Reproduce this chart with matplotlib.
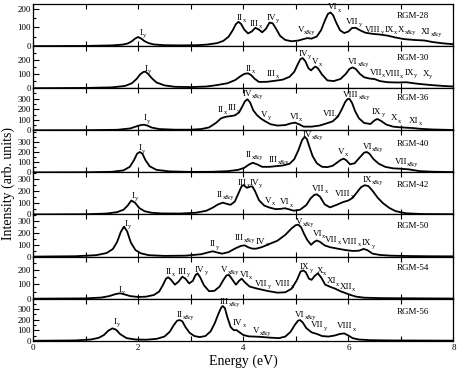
import numpy as np
import matplotlib
matplotlib.use("Agg")
import matplotlib.pyplot as plt
from matplotlib.ticker import MultipleLocator, FixedLocator

plt.rcParams['font.family'] = ['Liberation Serif', 'DejaVu Serif']

# ---------------- data (energy in eV, intensity in arb. units) ----------------
systems = ["RGM-28", "RGM-30", "RGM-36", "RGM-40", "RGM-42", "RGM-50", "RGM-54", "RGM-56"]

x28 = [0.0, 1.0, 1.5, 1.7, 1.8, 1.88, 1.94, 2.0, 2.06, 2.12, 2.2, 2.3, 2.5, 2.8, 3.1, 3.3, 3.5, 3.62, 3.72, 3.8,
       3.86, 3.91, 3.96, 4.02, 4.09, 4.16, 4.23, 4.3, 4.36, 4.43, 4.5, 4.56, 4.63, 4.7, 4.8, 4.92, 5.05, 5.15, 5.22,
       5.3, 5.4, 5.48, 5.55, 5.61, 5.66, 5.71, 5.77, 5.84, 5.92, 6.0, 6.07, 6.14, 6.22, 6.32, 6.45, 6.6, 6.75, 6.9,
       7.05, 7.25, 7.45, 7.6, 7.8, 8.0]
y28 = [0, 1, 4, 8, 14, 26, 40, 49, 40, 27, 16, 9, 5, 4, 5, 8, 16, 28, 50, 85,
       118, 130, 118, 88, 68, 78, 98, 88, 74, 92, 126, 122, 90, 55, 33, 26, 30, 38, 43,
       40, 52, 85, 135, 172, 180, 165, 125, 85, 70, 78, 97, 98, 85, 72, 66, 62, 56, 46,
       38, 33, 30, 22, 15, 10]

x30 = [0.0, 1.0, 1.5, 1.75, 1.88, 1.97, 2.04, 2.1, 2.14, 2.19, 2.26, 2.35, 2.5, 2.7, 3.0, 3.3, 3.5, 3.7, 3.85,
       3.95, 4.02, 4.09, 4.15, 4.22, 4.3, 4.45, 4.6, 4.75, 4.88, 4.97, 5.04, 5.09, 5.13, 5.18, 5.24, 5.29, 5.33,
       5.37, 5.42, 5.5, 5.6, 5.72, 5.85, 5.95, 6.02, 6.08, 6.14, 6.22, 6.3, 6.4, 6.5, 6.6, 6.75, 6.95, 7.1, 7.3,
       7.55, 7.8, 8.0]
y30 = [0, 2, 6, 16, 35, 65, 98, 114, 116, 100, 70, 40, 20, 10, 8, 12, 22, 35, 58,
       85, 100, 105, 92, 65, 44, 45, 52, 60, 80, 115, 170, 205, 211, 190, 140, 125, 140,
       152, 140, 95, 55, 50, 65, 100, 135, 146, 135, 100, 77, 68, 64, 50, 42, 40, 42, 32,
       23, 16, 12]

x36 = [0.0, 1.0, 1.6, 1.85, 1.97, 2.05, 2.11, 2.17, 2.26, 2.4, 2.7, 3.0, 3.2, 3.35, 3.48, 3.58, 3.68, 3.76,
       3.84, 3.92, 3.98, 4.03, 4.08, 4.13, 4.19, 4.26, 4.34, 4.42, 4.52, 4.65, 4.8, 4.9, 4.98, 5.05, 5.15, 5.3,
       5.45, 5.58, 5.7, 5.8, 5.88, 5.94, 5.98, 6.02, 6.07, 6.13, 6.2, 6.3, 6.42, 6.5, 6.55, 6.62, 6.72, 6.85,
       6.95, 7.1, 7.22, 7.35, 7.6, 8.0]
y36 = [0, 1, 5, 18, 38, 50, 53, 46, 26, 12, 6, 6, 12, 28, 70, 115, 130, 135,
       142, 170, 225, 275, 295, 265, 190, 145, 110, 85, 58, 45, 50, 65, 73, 60, 35, 35,
       45, 65, 85, 130, 205, 270, 295, 300, 260, 180, 115, 70, 60, 95, 108, 90, 55, 35,
       30, 25, 22, 15, 8, 3]

x40 = [0.0, 1.0, 1.5, 1.72, 1.84, 1.92, 1.98, 2.03, 2.08, 2.14, 2.22, 2.35, 2.6, 3.0, 3.4, 3.7, 3.9, 4.02,
       4.1, 4.18, 4.26, 4.36, 4.5, 4.63, 4.75, 4.88, 4.97, 5.05, 5.12, 5.17, 5.21, 5.26, 5.32, 5.4, 5.5, 5.6,
       5.7, 5.78, 5.86, 5.91, 5.96, 6.03, 6.12, 6.22, 6.3, 6.35, 6.4, 6.48, 6.58, 6.7, 6.85, 7.0, 7.15, 7.35,
       7.6, 8.0]
y40 = [0, 1, 6, 20, 55, 120, 185, 201, 185, 120, 60, 25, 10, 5, 6, 12, 25, 45,
       75, 95, 80, 55, 55, 62, 68, 85, 130, 220, 320, 350, 330, 250, 160, 90, 55, 52,
       65, 95, 125, 135, 120, 80, 90, 150, 195, 201, 185, 130, 85, 55, 40, 36, 30, 13,
       7, 3]

x42 = [0.0, 1.0, 1.4, 1.6, 1.72, 1.8, 1.87, 1.94, 2.02, 2.12, 2.25, 2.45, 2.8, 3.1, 3.3, 3.42, 3.52, 3.61,
       3.7, 3.76, 3.84, 3.92, 3.97, 4.01, 4.07, 4.13, 4.17, 4.22, 4.3, 4.4, 4.5, 4.62, 4.72, 4.79, 4.86, 4.96,
       5.08, 5.2, 5.28, 5.35, 5.4, 5.46, 5.55, 5.65, 5.78, 5.9, 6.0, 6.08, 6.16, 6.24, 6.31, 6.38, 6.46, 6.56,
       6.66, 6.78, 6.9, 7.1, 7.4, 8.0]
y42 = [0, 2, 8, 20, 40, 75, 118, 100, 55, 28, 15, 9, 8, 15, 32, 58, 85, 100,
       88, 82, 110, 190, 240, 247, 225, 235, 238, 200, 120, 75, 58, 45, 48, 53, 45, 32,
       40, 80, 135, 165, 170, 150, 85, 60, 82, 105, 118, 140, 185, 230, 247, 240, 200, 140,
       95, 55, 28, 10, 4, 2]

x50 = [0.0, 0.8, 1.2, 1.4, 1.52, 1.6, 1.67, 1.73, 1.79, 1.86, 1.95, 2.05, 2.2, 2.5, 2.9, 3.2, 3.35, 3.42,
       3.5, 3.6, 3.72, 3.85, 3.96, 4.03, 4.1, 4.17, 4.24, 4.35, 4.5, 4.65, 4.8, 4.92, 5.0, 5.05, 5.1, 5.16,
       5.22, 5.29, 5.35, 5.4, 5.46, 5.55, 5.65, 5.8, 5.95, 6.08, 6.2, 6.29, 6.36, 6.46, 6.6, 6.8, 7.1, 7.5, 8.0]
y50 = [0, 3, 12, 30, 65, 125, 210, 255, 215, 120, 55, 28, 12, 6, 8, 20, 38, 45,
       35, 25, 38, 70, 92, 95, 78, 68, 67, 80, 108, 135, 185, 240, 268, 271, 250, 190,
       140, 100, 125, 137, 125, 95, 80, 67, 55, 48, 50, 65, 55, 25, 14, 8, 5, 3, 2]

x54 = [0.0, 1.0, 1.3, 1.45, 1.55, 1.62, 1.67, 1.74, 1.85, 2.0, 2.15, 2.3, 2.4, 2.47, 2.53, 2.57, 2.62, 2.7,
       2.77, 2.84, 2.9, 2.97, 3.04, 3.09, 3.13, 3.18, 3.25, 3.35, 3.45, 3.55, 3.62, 3.68, 3.73, 3.8, 3.86, 3.92,
       3.97, 4.03, 4.12, 4.25, 4.45, 4.65, 4.8, 4.92, 5.02, 5.09, 5.14, 5.19, 5.25, 5.3, 5.36, 5.42, 5.48, 5.56,
       5.66, 5.75, 5.85, 5.96, 6.05, 6.15, 6.3, 6.6, 7.0, 8.0]
y54 = [0, 2, 8, 18, 30, 36, 37, 30, 18, 12, 14, 26, 50, 95, 140, 150, 135, 98,
       120, 154, 140, 107, 125, 165, 177, 150, 95, 52, 55, 85, 130, 163, 166, 130, 98, 125,
       140, 115, 85, 72, 55, 42, 45, 70, 130, 190, 198, 185, 140, 132, 160, 177, 150, 98,
       82, 70, 52, 37, 25, 14, 7, 4, 3, 1]

x56 = [0.0, 0.8, 1.1, 1.25, 1.35, 1.43, 1.51, 1.58, 1.66, 1.78, 1.95, 2.15, 2.35, 2.5, 2.6, 2.68, 2.74, 2.79,
       2.84, 2.9, 2.98, 3.07, 3.17, 3.28, 3.38, 3.46, 3.53, 3.58, 3.61, 3.65, 3.7, 3.76, 3.82, 3.87, 3.93, 4.0,
       4.1, 4.3, 4.5, 4.68, 4.8, 4.9, 4.98, 5.04, 5.08, 5.13, 5.2, 5.3, 5.4, 5.5, 5.62, 5.74, 5.84, 5.92, 6.0,
       6.08, 6.2, 6.4, 6.8, 8.0]
y56 = [0, 3, 12, 28, 55, 95, 118, 105, 62, 25, 12, 10, 18, 40, 85, 150, 190, 197,
       185, 130, 75, 45, 35, 45, 90, 170, 260, 315, 330, 310, 220, 130, 100, 102, 80, 55,
       42, 38, 30, 25, 40, 85, 150, 190, 197, 175, 120, 80, 65, 45, 40, 50, 65, 70, 50,
       25, 12, 6, 3, 1]

energies = [x28, x30, x36, x40, x42, x50, x54, x56]
intensities = [y28, y30, y36, y40, y42, y50, y54, y56]

# peak assignments: (numeral, polarisation, energy of label, intensity of label)
peaks28 = [("I", "y", 2.03, 60), ("II", "x", 3.87, 142), ("III", "x", 4.13, 110), ("IV", "y", 4.44, 142),
           ("V", "x&y", 5.03, 77), ("VI", "x", 5.61, 196), ("VII", "y", 5.96, 121), ("VIII", "y", 6.32, 77),
           ("IX", "x", 6.69, 77), ("X", "x&y", 6.94, 77), ("XI", "x&y", 7.38, 67)]
peaks30 = [("I", "y", 2.13, 124), ("II", "x", 4.05, 122), ("III", "x", 4.44, 84), ("IV", "y", 5.05, 226),
           ("V", "x", 5.31, 168), ("VI", "x&y", 5.99, 168), ("VII", "x", 6.4, 92), ("VIII", "x", 6.69, 88),
           ("IX", "y", 7.07, 92), ("X", "y", 7.41, 84)]
peaks36 = [("I", "y", 2.11, 95), ("II", "x", 3.52, 174), ("III", "y", 3.7, 190), ("IV", "x&y", 3.98, 328),
           ("V", "y", 4.34, 127), ("VI", "x", 4.88, 110), ("VII", "y", 5.51, 136), ("VIII", "x&y", 5.9, 317),
           ("IX", "y", 6.45, 158), ("X", "x", 6.81, 95), ("XI", "x", 7.15, 72)]
peaks40 = [("I", "y", 2.0, 218), ("II", "x&y", 4.05, 151), ("III", "x&y", 4.49, 102), ("IV", "x&y", 5.13, 352),
           ("V", "x", 5.8, 184), ("VI", "x&y", 6.27, 234), ("VII", "x&y", 6.88, 85)]
peaks42 = [("I", "y", 1.87, 142), ("II", "x&y", 3.49, 147), ("III", "x", 3.9, 252), ("IV", "y", 4.12, 247),
           ("V", "x", 4.41, 100), ("VI", "x", 4.7, 86), ("VII", "x", 5.31, 197), ("VIII", "x", 5.74, 156),
           ("IX", "x&y", 6.27, 272)]
peaks50 = [("I", "y", 1.75, 263), ("II", "y", 3.36, 87), ("III", "x&y", 3.84, 143), ("IV", "x", 4.24, 109),
           ("V", "x&y", 5.01, 277), ("VI", "x", 5.32, 179), ("VII", "x", 5.56, 123), ("VIII", "x", 5.88, 109),
           ("IX", "y", 6.26, 95)]
peaks54 = [("I", "y", 1.63, 49), ("II", "x", 2.53, 173), ("III", "y", 2.76, 173), ("IV", "y", 3.08, 189),
           ("V", "x&y", 3.58, 189), ("VI", "x", 3.93, 150), ("VII", "y", 4.22, 89), ("VIII", "x", 4.6, 89),
           ("IX", "y", 5.08, 205), ("X", "x", 5.39, 180), ("XI", "x", 5.58, 107), ("XII", "x", 5.83, 66)]
peaks56 = [("I", "y", 1.53, 159), ("II", "x&y", 2.73, 229), ("III", "x&y", 3.55, 352), ("IV", "x", 3.8, 150),
           ("V", "x&y", 4.18, 76), ("VI", "x&y", 4.98, 229), ("VII", "y", 5.29, 128), ("VIII", "x", 5.78, 118)]
peak_sets = [peaks28, peaks30, peaks36, peaks40, peaks42, peaks50, peaks54, peaks56]

# ---------------- layout ----------------
y_max = [225, 295, 400, 415, 355, 358, 295, 400]
y_major = [[0, 100, 200], [0, 100, 200], [0, 100, 200, 300], [0, 100, 200, 300],
           [0, 100, 200, 300], [0, 100, 200, 300], [0, 100, 200], [0, 100, 200, 300]]
name_y = [0.72, 0.73, 0.77, 0.68, 0.69, 0.73, 0.72, 0.69]

DPI = 100
fig, axes = plt.subplots(8, 1, figsize=(4.59, 3.68), dpi=DPI, sharex=True)
fig.subplots_adjust(left=0.072, right=0.988, top=0.989, bottom=0.074, hspace=0)

main_texts = []
for i, ax in enumerate(axes):
    ax.plot(energies[i], intensities[i], color='black', lw=1.3, solid_joinstyle='round')
    ax.set_xlim(0, 8)
    ax.set_ylim(0, y_max[i])
    ax.yaxis.set_major_locator(FixedLocator(y_major[i]))
    ax.yaxis.set_minor_locator(MultipleLocator(50))
    ax.xaxis.set_major_locator(MultipleLocator(2))
    ax.xaxis.set_minor_locator(MultipleLocator(1))
    ax.tick_params(axis='x', which='both', direction='in', top=True, bottom=True, length=3.5, width=0.8)
    ax.tick_params(axis='y', which='major', direction='in', left=True, right=False, length=4.5, width=0.8,
                   labelsize=6.5, pad=1.5)
    ax.tick_params(axis='y', which='minor', direction='in', left=True, right=False, length=2.5, width=0.8)
    ax.tick_params(axis='x', labelsize=6.5, pad=2)
    for s in ax.spines.values():
        s.set_linewidth(0.9)
    ax.text(0.904, name_y[i], systems[i], transform=ax.transAxes, ha='center', va='center', fontsize=6.5)
    for num, pol, ex, ey in peak_sets[i]:
        t = ax.text(ex, ey, num, ha='left', va='baseline', fontsize=6.5)
        main_texts.append((ax, t, pol, ex, ey))

axes[-1].set_xticks([0, 2, 4, 6, 8])
axes[-1].set_xlabel("Energy (eV)", fontsize=10, labelpad=2)
fig.text(0.018, 0.5, "Intensity (arb. units)", rotation=90, ha='center', va='center', fontsize=10)

# subscripts placed right after each numeral
renderer = fig.canvas.get_renderer()
for ax, t, pol, ex, ey in main_texts:
    w_pt = t.get_window_extent(renderer).width * 72.0 / DPI
    ax.annotate(pol, xy=(ex, ey), xytext=(w_pt + 0.2, -1.6), textcoords='offset points',
                ha='left', va='baseline', fontsize=4.6)

fig.savefig("out.png", dpi=DPI)
